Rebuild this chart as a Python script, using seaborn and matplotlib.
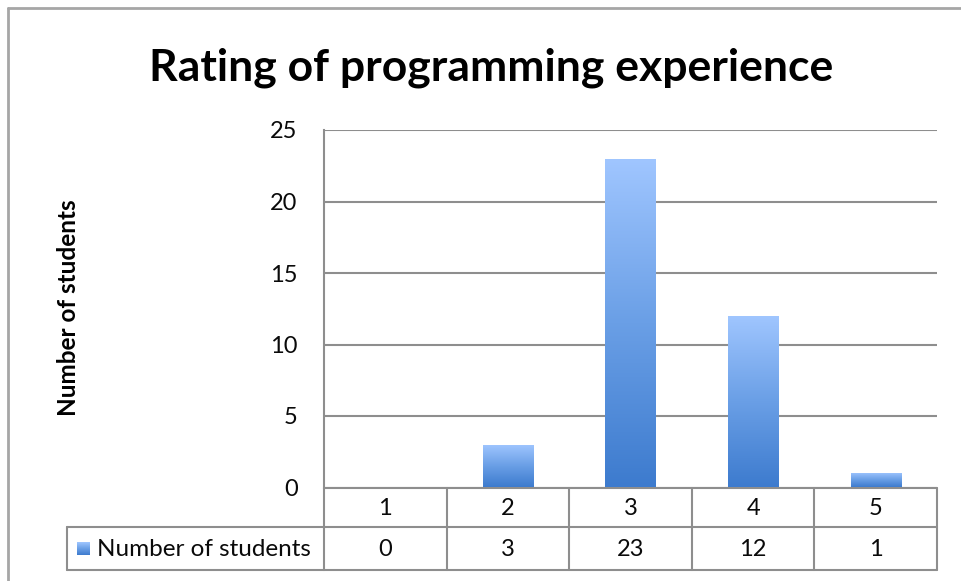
import numpy as np
import matplotlib
matplotlib.use("Agg")
import matplotlib.pyplot as plt
import seaborn as sns
import pandas as pd
from matplotlib.colors import LinearSegmentedColormap
from matplotlib.lines import Line2D

# Survey results
ratings = ["1", "2", "3", "4", "5"]
students = [0, 3, 23, 12, 1]
series_name = "Number of students"
chart_title = "Rating of programming experience"
y_ticks = [0, 5, 10, 15, 20, 25]

sns.set_theme(style="white")
plt.rcParams["font.family"] = ["Lato", "DejaVu Sans"]

W, H = 962, 581
fig = plt.figure(figsize=(W / 100, H / 100), dpi=100)
fig.patch.set_facecolor("white")

# plot area in pixel terms
L, R, T, B = 324, 937, 130, 487.5
ax = fig.add_axes([L / W, 1 - B / H, (R - L) / W, (B - T) / H])

df = pd.DataFrame({"rating": ratings, "students": students})
sns.barplot(data=df, x="rating", y="students", ax=ax, width=0.41,
            color="#5b93de", saturation=1, errorbar=None, zorder=3)

ax.set_xlim(-0.5, len(ratings) - 0.5)
ax.set_ylim(0, max(y_ticks))
ax.set_yticks(y_ticks)
ax.set_xticks([])
ax.set_xlabel("")
ax.set_ylabel("")

grid_col = "#8e8e8e"
text_col = "#0a0a0a"
ax.set_axisbelow(True)
ax.yaxis.grid(True, color=grid_col, linewidth=1.5)
for s in ["top", "right", "bottom"]:
    ax.spines[s].set_visible(False)
ax.spines["left"].set_color(grid_col)
ax.spines["left"].set_linewidth(1.5)
ax.tick_params(axis="y", length=0, pad=19, labelsize=17, labelcolor=text_col)

# gradient fill for each bar: light on top, deeper blue at the base
cmap = LinearSegmentedColormap.from_list("barfill", ["#3d7bce", "#6a9fe6", "#a0c6ff"])
grad = np.linspace(0, 1, 256).reshape(-1, 1)
for p in list(ax.patches):
    h = p.get_height()
    p.set_facecolor("none")
    p.set_edgecolor("none")
    p.set_linewidth(0)
    if h <= 0:
        continue
    x0, w = p.get_x(), p.get_width()
    im = ax.imshow(grad, extent=[x0, x0 + w, 0, h], origin="lower",
                   aspect="auto", cmap=cmap, zorder=3, interpolation="bicubic")
    im.set_clip_path(p)
ax.set_xlim(-0.5, len(ratings) - 0.5)
ax.set_ylim(0, max(y_ticks))

# data table under the axis
def ay(py):
    return (B - py) / (B - T)

row1_bot, row2_bot = 527, 570
xt = ax.get_xaxis_transform()
line_kw = dict(color=grid_col, linewidth=1.5, clip_on=False)
n = len(ratings)
for i in range(n + 1):
    ax.add_line(Line2D([i - 0.5, i - 0.5], [0, ay(row2_bot)], transform=xt, **line_kw))
ax.add_line(Line2D([-0.5, n - 0.5], [0, 0], transform=xt, **line_kw))
ax.add_line(Line2D([-0.5, n - 0.5], [ay(row1_bot)] * 2, transform=xt, **line_kw))
ax.add_line(Line2D([-0.5, n - 0.5], [ay(row2_bot)] * 2, transform=xt, **line_kw))

# legend cell on the left of the value row
fig.add_artist(Line2D([67 / W, L / W], [1 - row1_bot / H] * 2, transform=fig.transFigure, **line_kw))
fig.add_artist(Line2D([67 / W, L / W], [1 - row2_bot / H] * 2, transform=fig.transFigure, **line_kw))
fig.add_artist(Line2D([67 / W, 67 / W], [1 - row1_bot / H, 1 - row2_bot / H], transform=fig.transFigure, **line_kw))

txt_kw = dict(ha="center", va="center", fontsize=17, color=text_col, transform=xt, clip_on=False)
for i, (r, v) in enumerate(zip(ratings, students)):
    ax.text(i, ay((B + row1_bot) / 2 + 1), r, **txt_kw)
    ax.text(i, ay((row1_bot + row2_bot) / 2 + 1), str(v), **txt_kw)

# legend key swatch and series name
key_ax = fig.add_axes([77 / W, 1 - 555 / H, 13 / W, 13 / H])
key_ax.imshow(grad, origin="lower", aspect="auto", cmap=cmap, extent=[0, 1, 0, 1])
key_ax.set_axis_off()
fig.text(97 / W, 1 - 549 / H, series_name, ha="left", va="center", fontsize=17.5, color=text_col)

# title and y-axis label
fig.text(491 / W, 1 - 68 / H, chart_title, ha="center", va="center",
         fontsize=32, fontweight="bold", color="black")
fig.text(68 / W, 1 - 308 / H, series_name, ha="center", va="center", rotation=90,
         fontsize=17.5, fontweight="bold", color="black")

# chart frame
frame_col = "#a6a6a6"
fig.add_artist(Line2D([8 / W, 8 / W], [1 - 8 / H, 0], transform=fig.transFigure, color=frame_col, linewidth=2))
fig.add_artist(Line2D([8 / W, 1], [1 - 8 / H] * 2, transform=fig.transFigure, color=frame_col, linewidth=2))

fig.savefig("out.png", dpi=100, facecolor="white")
